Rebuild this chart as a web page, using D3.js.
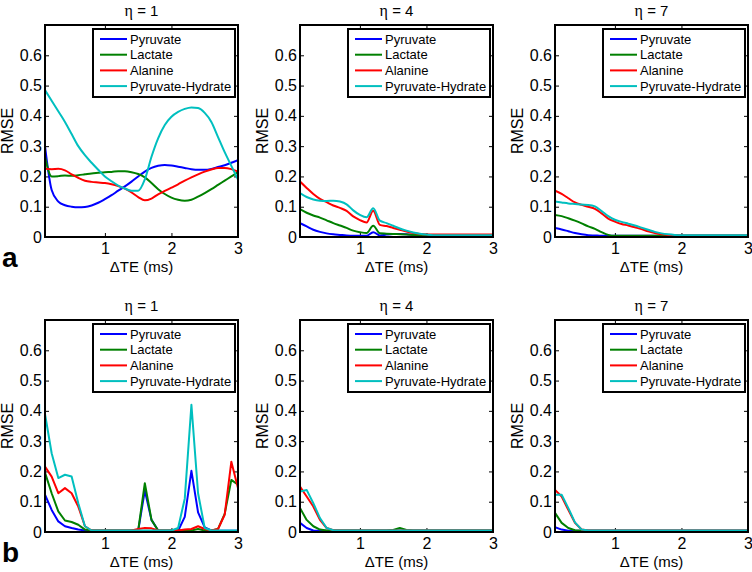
<!DOCTYPE html>
<html>
<head>
<meta charset="utf-8">
<script src="https://cdn.jsdelivr.net/npm/d3@7/dist/d3.min.js"></script>
<style>
  html, body { margin: 0; padding: 0; background: #fff; }
  svg { display: block; font-family: "Liberation Sans", Arial, sans-serif; }
</style>
</head>
<body>
<svg id="chart" width="752" height="572"></svg>
<script>
// ---------- DATA ----------
const deltaTE = [0.1,0.2,0.3,0.4,0.5,0.6,0.7,0.8,0.9,1.0,1.1,1.2,1.3,1.4,1.5,1.6,1.7,1.8,1.9,2.0,2.1,2.2,2.3,2.4,2.5,2.6,2.7,2.8,2.9,3.0];
const seriesNames = ["Pyruvate", "Lactate", "Alanine", "Pyruvate-Hydrate"];
const seriesColors = ["#0000ff", "#008000", "#ff0000", "#00bfbf"];
const panelTitles = ["1", "4", "7"];
const rowLabels = ["a", "b"];
const yTicks = [0, 0.1, 0.2, 0.3, 0.4, 0.5, 0.6];
const xTicks = [1, 2, 3];

// Row a, eta = 1
const a1Pyr = [0.300,0.155,0.117,0.105,0.100,0.098,0.099,0.104,0.113,0.125,0.138,0.153,0.167,0.183,0.200,0.216,0.228,0.235,0.238,0.236,0.232,0.228,0.224,0.222,0.222,0.225,0.231,0.237,0.245,0.254];
const a1Lac = [0.265,0.200,0.201,0.203,0.202,0.204,0.207,0.210,0.212,0.214,0.215,0.217,0.217,0.214,0.208,0.197,0.178,0.158,0.142,0.130,0.123,0.120,0.123,0.133,0.145,0.158,0.172,0.186,0.200,0.214];
const a1Ala = [0.225,0.224,0.225,0.220,0.207,0.195,0.186,0.182,0.180,0.178,0.174,0.168,0.160,0.147,0.132,0.121,0.127,0.141,0.152,0.163,0.174,0.186,0.197,0.207,0.216,0.223,0.228,0.228,0.224,0.216];
const a1Hyd = [0.485,0.450,0.415,0.380,0.340,0.300,0.270,0.245,0.222,0.200,0.184,0.170,0.160,0.153,0.153,0.190,0.265,0.326,0.370,0.397,0.413,0.423,0.428,0.426,0.410,0.380,0.330,0.280,0.235,0.190];
// Row a, eta = 4
const a2Pyr = [0.046,0.035,0.024,0.017,0.012,0.009,0.007,0.005,0.004,0.004,0.004,0.016,0.005,0.008,0.010,0.010,0.009,0.007,0.005,0.004,0.004,0.004,0.004,0.004,0.004,0.004,0.004,0.004,0.004,0.004];
const a2Lac = [0.092,0.080,0.071,0.064,0.055,0.046,0.038,0.030,0.021,0.016,0.013,0.037,0.012,0.011,0.010,0.009,0.008,0.007,0.006,0.005,0.005,0.005,0.005,0.005,0.005,0.005,0.005,0.005,0.005,0.005];
const a2Ala = [0.183,0.162,0.142,0.126,0.115,0.104,0.096,0.086,0.068,0.056,0.048,0.087,0.040,0.036,0.030,0.024,0.018,0.013,0.010,0.009,0.008,0.008,0.008,0.008,0.008,0.008,0.008,0.008,0.008,0.008];
const a2Hyd = [0.145,0.132,0.124,0.120,0.119,0.120,0.117,0.108,0.088,0.073,0.065,0.095,0.054,0.046,0.037,0.028,0.021,0.015,0.011,0.008,0.006,0.006,0.006,0.006,0.006,0.006,0.006,0.006,0.006,0.006];
// Row a, eta = 7
const a3Pyr = [0.030,0.025,0.019,0.013,0.009,0.006,0.005,0.004,0.004,0.004,0.004,0.004,0.004,0.004,0.004,0.004,0.004,0.004,0.004,0.004,0.004,0.004,0.004,0.004,0.004,0.004,0.004,0.004,0.004,0.004];
const a3Lac = [0.073,0.069,0.062,0.054,0.045,0.035,0.027,0.016,0.007,0.004,0.004,0.004,0.004,0.004,0.004,0.004,0.004,0.004,0.004,0.004,0.004,0.004,0.004,0.004,0.004,0.004,0.004,0.004,0.004,0.004];
const a3Ala = [0.153,0.142,0.128,0.114,0.106,0.100,0.093,0.078,0.061,0.051,0.043,0.038,0.032,0.026,0.019,0.013,0.009,0.007,0.006,0.005,0.005,0.005,0.005,0.005,0.005,0.005,0.005,0.005,0.005,0.005];
const a3Hyd = [0.117,0.114,0.111,0.109,0.107,0.106,0.101,0.086,0.069,0.057,0.050,0.044,0.038,0.031,0.024,0.017,0.012,0.009,0.007,0.006,0.006,0.006,0.006,0.006,0.006,0.006,0.006,0.006,0.006,0.006];
// Row b, eta = 1
const b1Pyr = [0.123,0.073,0.035,0.019,0.013,0.008,0.005,0.004,0.004,0.004,0.004,0.004,0.004,0.004,0.004,0.137,0.040,0.005,0.004,0.004,0.004,0.050,0.202,0.065,0.015,0.005,0.004,0.004,0.004,0.004];
const b1Lac = [0.196,0.128,0.068,0.038,0.033,0.024,0.008,0.005,0.005,0.005,0.005,0.005,0.005,0.005,0.005,0.161,0.040,0.005,0.005,0.005,0.005,0.005,0.005,0.010,0.005,0.005,0.010,0.060,0.172,0.156];
const b1Ala = [0.216,0.183,0.128,0.145,0.128,0.084,0.019,0.005,0.005,0.005,0.005,0.005,0.005,0.005,0.010,0.013,0.012,0.005,0.005,0.005,0.005,0.008,0.010,0.019,0.010,0.005,0.010,0.057,0.232,0.145];
const b1Hyd = [0.390,0.260,0.178,0.189,0.183,0.095,0.019,0.005,0.005,0.005,0.005,0.005,0.005,0.005,0.005,0.005,0.005,0.005,0.005,0.005,0.013,0.110,0.420,0.128,0.013,0.005,0.005,0.005,0.005,0.005];
// Row b, eta = 4
const b2Pyr = [0.030,0.013,0.005,0.004,0.004,0.004,0.004,0.004,0.004,0.004,0.004,0.004,0.004,0.004,0.004,0.004,0.004,0.004,0.004,0.004,0.004,0.004,0.004,0.004,0.004,0.004,0.004,0.004,0.004,0.004];
const b2Lac = [0.079,0.040,0.019,0.008,0.005,0.005,0.005,0.005,0.005,0.005,0.005,0.005,0.005,0.005,0.007,0.013,0.007,0.005,0.005,0.005,0.005,0.005,0.005,0.005,0.005,0.005,0.005,0.005,0.005,0.005];
const b2Ala = [0.150,0.117,0.084,0.040,0.013,0.006,0.005,0.005,0.005,0.005,0.005,0.005,0.005,0.005,0.005,0.005,0.005,0.005,0.005,0.005,0.005,0.005,0.005,0.005,0.005,0.005,0.005,0.005,0.005,0.005];
const b2Hyd = [0.134,0.139,0.095,0.046,0.013,0.006,0.005,0.005,0.005,0.005,0.005,0.005,0.005,0.005,0.005,0.005,0.005,0.005,0.005,0.005,0.005,0.005,0.005,0.005,0.005,0.005,0.005,0.005,0.005,0.005];
// Row b, eta = 7
const b3Pyr = [0.016,0.008,0.004,0.004,0.004,0.004,0.004,0.004,0.004,0.004,0.004,0.004,0.004,0.004,0.004,0.004,0.004,0.004,0.004,0.004,0.004,0.004,0.004,0.004,0.004,0.004,0.004,0.004,0.004,0.004];
const b3Lac = [0.063,0.030,0.013,0.006,0.004,0.004,0.004,0.004,0.004,0.004,0.004,0.004,0.004,0.004,0.004,0.004,0.004,0.004,0.004,0.004,0.004,0.004,0.004,0.004,0.004,0.004,0.004,0.004,0.004,0.004];
const b3Ala = [0.139,0.117,0.073,0.030,0.008,0.005,0.005,0.005,0.005,0.005,0.005,0.005,0.005,0.005,0.005,0.005,0.005,0.005,0.005,0.005,0.005,0.005,0.005,0.005,0.005,0.005,0.005,0.005,0.005,0.005];
const b3Hyd = [0.123,0.123,0.079,0.032,0.008,0.005,0.005,0.005,0.005,0.005,0.005,0.005,0.005,0.005,0.005,0.005,0.005,0.005,0.005,0.005,0.005,0.005,0.005,0.005,0.005,0.005,0.005,0.005,0.005,0.005];

const panels = [
  { row: 0, col: 0, series: [a1Pyr, a1Lac, a1Ala, a1Hyd], smooth: true },
  { row: 0, col: 1, series: [a2Pyr, a2Lac, a2Ala, a2Hyd], smooth: true },
  { row: 0, col: 2, series: [a3Pyr, a3Lac, a3Ala, a3Hyd], smooth: true },
  { row: 1, col: 0, series: [b1Pyr, b1Lac, b1Ala, b1Hyd], smooth: false },
  { row: 1, col: 1, series: [b2Pyr, b2Lac, b2Ala, b2Hyd], smooth: false },
  { row: 1, col: 2, series: [b3Pyr, b3Lac, b3Ala, b3Hyd], smooth: false }
];

// ---------- LAYOUT ----------
const svg = d3.select("#chart");
const colLeft = [45, 300, 555];
const rowTop = [25, 320];
const pw = 193, ph = 212;

const x = d3.scaleLinear().domain([0.1, 3]).range([0, pw]);
const y = d3.scaleLinear().domain([0, 0.7]).range([ph, 0]);

const defs = svg.append("defs");
defs.append("clipPath").attr("id", "plotclip")
  .append("rect").attr("x", 0).attr("y", 0).attr("width", pw).attr("height", ph);

panels.forEach((p, i) => {
  const g = svg.append("g").attr("transform", `translate(${colLeft[p.col]},${rowTop[p.row]})`);

  // axes with inward ticks
  const yAxis = d3.axisLeft(y).tickValues(yTicks).tickSizeInner(-4).tickSizeOuter(0).tickPadding(3)
    .tickFormat(d => String(d));
  const gy = g.append("g").call(yAxis);
  const xAxis = d3.axisBottom(x).tickValues(xTicks).tickSizeInner(-4).tickSizeOuter(0).tickPadding(6)
    .tickFormat(d => String(d));
  const gx = g.append("g").attr("transform", `translate(0,${ph})`).call(xAxis);
  const gr = g.append("g").attr("transform", `translate(${pw},0)`)
    .call(d3.axisRight(y).tickValues(yTicks).tickSizeInner(-4).tickSizeOuter(0).tickFormat(""));
  const gt = g.append("g")
    .call(d3.axisTop(x).tickValues(xTicks).tickSizeInner(-4).tickSizeOuter(0).tickFormat(""));
  [gy, gx, gr, gt].forEach(a => {
    a.select(".domain").remove();
    a.selectAll("line").attr("stroke", "#000").attr("stroke-width", 1);
    a.selectAll("text").attr("fill", "#000").style("font-size", "16px")
      .style("font-family", "'Liberation Sans', Arial, sans-serif");
  });

  // lines
  const line = d3.line()
    .x((d, k) => x(deltaTE[k]))
    .y(d => y(d))
    .curve(p.smooth ? d3.curveMonotoneX : d3.curveLinear);
  const lg = g.append("g").attr("clip-path", "url(#plotclip)");
  p.series.forEach((s, k) => {
    lg.append("path").datum(s)
      .attr("d", line)
      .attr("fill", "none")
      .attr("stroke", seriesColors[k])
      .attr("stroke-width", 2)
      .attr("stroke-linejoin", "round");
  });

  // frame
  g.append("rect").attr("x", 0).attr("y", 0).attr("width", pw).attr("height", ph)
    .attr("fill", "none").attr("stroke", "#000").attr("stroke-width", 2);

  // legend
  const leg = g.append("g").attr("transform", "translate(48,4)");
  leg.append("rect").attr("x", 0).attr("y", 0).attr("width", 142).attr("height", 68)
    .attr("fill", "#fff").attr("stroke", "#000").attr("stroke-width", 2);
  seriesNames.forEach((n, k) => {
    const yy = 10 + k * 15.7;
    leg.append("line").attr("x1", 7).attr("x2", 34).attr("y1", yy).attr("y2", yy)
      .attr("stroke", seriesColors[k]).attr("stroke-width", 2);
    leg.append("text").attr("x", 37).attr("y", yy).attr("dy", "0.35em")
      .style("font-size", "13px").attr("fill", "#000").text(n);
  });

  // title
  const t = g.append("text").attr("x", pw / 2).attr("y", -9)
    .attr("text-anchor", "middle").style("font-size", "15px").attr("fill", "#000");
  t.append("tspan").style("font-family", "'Liberation Serif', 'Times New Roman', serif").style("font-size", "16px").text("η");
  t.append("tspan").text(" = " + panelTitles[p.col]);

  // axis labels
  g.append("text").attr("x", pw / 2).attr("y", ph + 35)
    .attr("text-anchor", "middle").style("font-size", "15px").attr("fill", "#000")
    .text("ΔTE (ms)");
  g.append("text")
    .attr("transform", `translate(-32,${ph / 2}) rotate(-90)`)
    .attr("text-anchor", "middle").style("font-size", "16px").attr("fill", "#000")
    .text("RMSE");
});

// row labels
rowLabels.forEach((l, r) => {
  svg.append("text").attr("x", 2).attr("y", rowTop[r] + ph + 30)
    .style("font-size", "28px").style("font-weight", "bold").attr("fill", "#000").text(l);
});
</script>
</body>
</html>
